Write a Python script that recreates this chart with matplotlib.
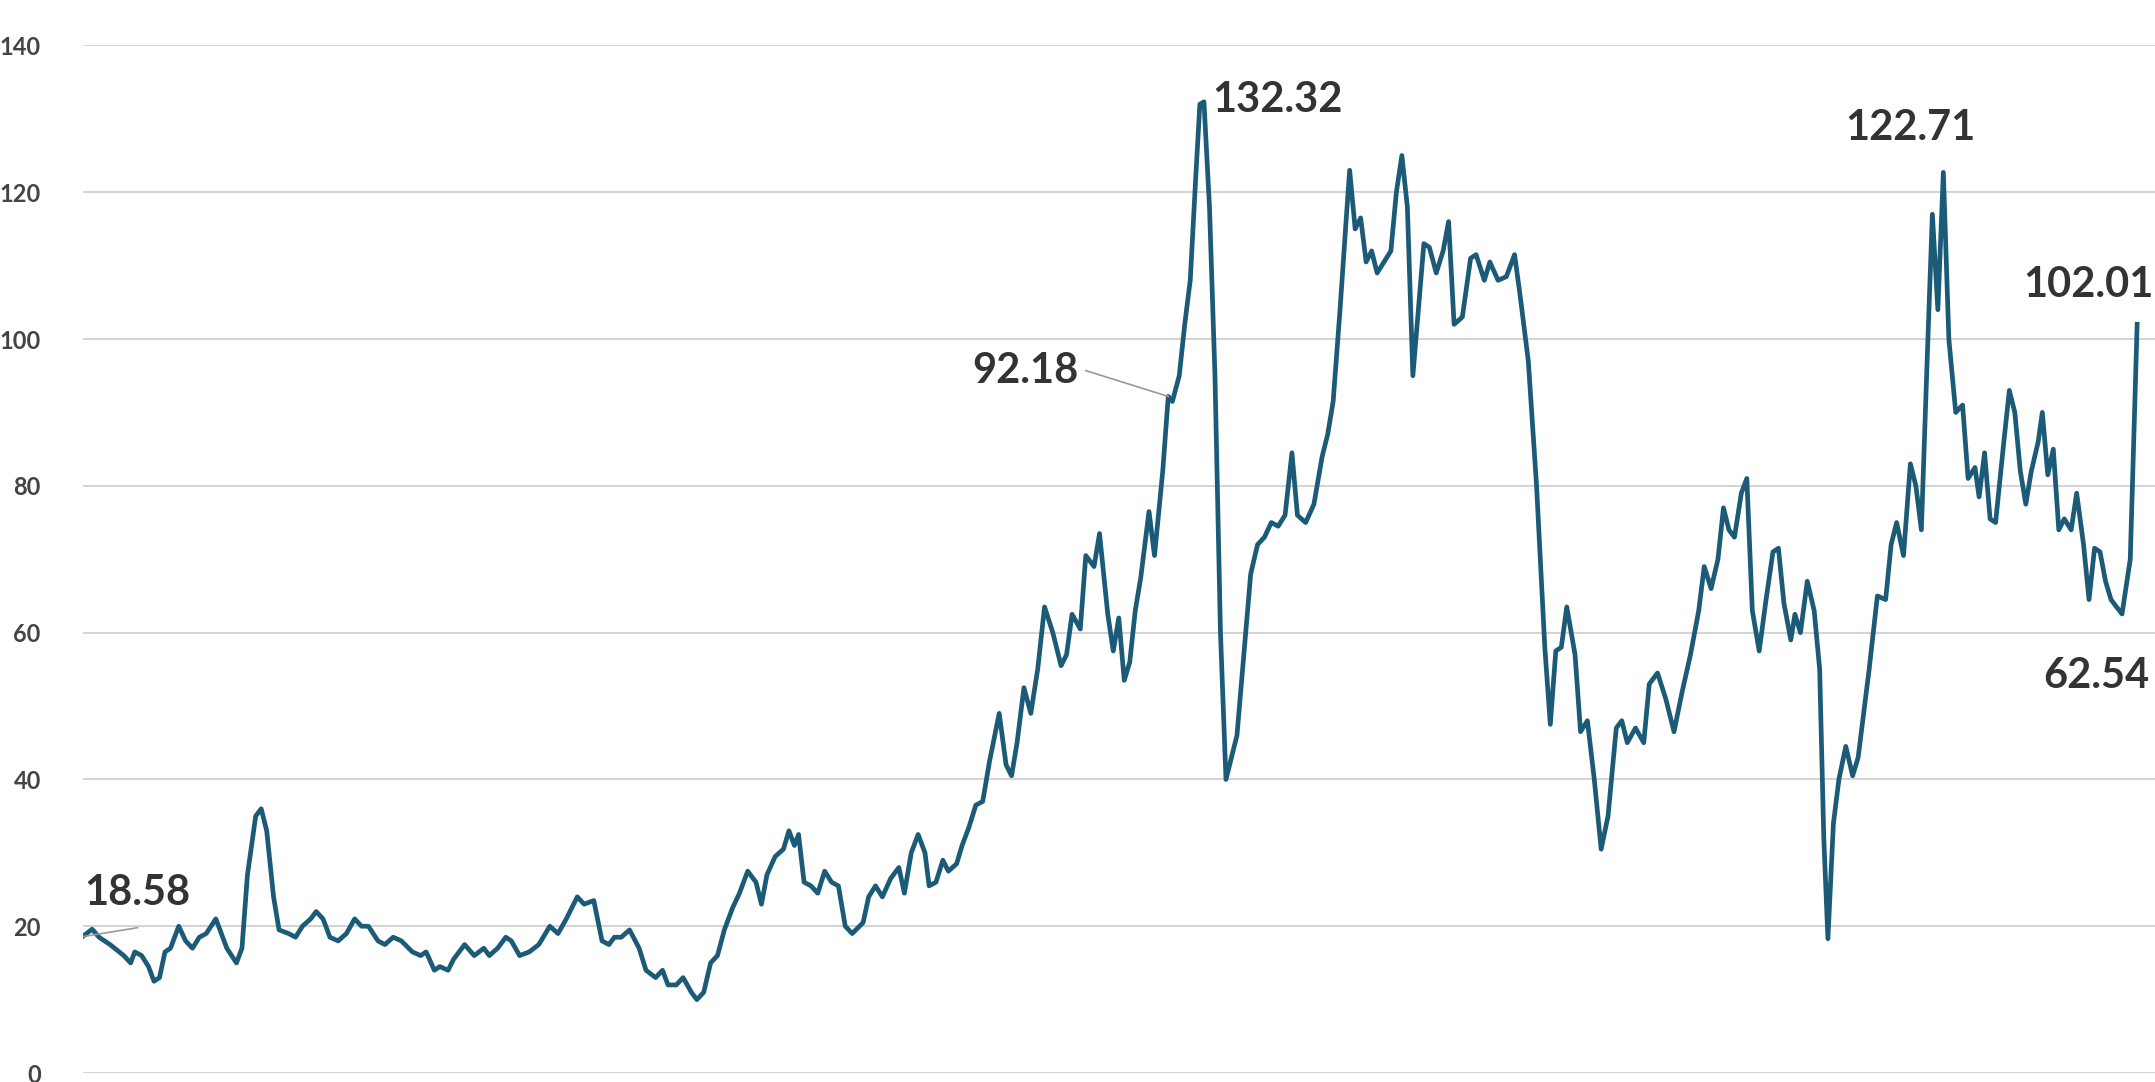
import matplotlib.pyplot as plt

plt.rcParams['font.family'] = ['Lato', 'DejaVu Sans']

# time index (arbitrary units along the x axis) and price values
t = [0, 7, 12, 20, 30, 35, 38, 43, 48, 52, 56, 60, 64, 70, 75, 80, 85, 90, 97, 105, 112, 116, 120, 126, 130, 134,
     139, 143, 150, 155, 160, 166, 170, 175, 180, 186, 192, 198, 203, 208, 215, 220, 226, 232, 240, 246, 250, 256,
     260, 266, 270, 278, 285, 292, 296, 302, 308, 312, 318, 325, 332, 340, 346, 352, 360, 365, 372, 378, 383, 387,
     392, 398, 405, 410, 417, 422, 426, 432, 437, 443, 447, 452, 457, 462, 467, 473, 478, 484, 490, 494, 498, 504,
     510, 514, 518, 521, 525, 530, 535, 540, 545, 550, 555, 560, 568, 572, 577, 582, 588, 594, 598, 603, 608, 613,
     616, 621, 626, 630, 636, 640, 645, 650, 655, 660, 667, 672, 676, 680, 685, 690, 695, 700, 706, 712, 716, 720,
     726, 730, 736, 740, 746, 750, 754, 758, 762, 766, 770, 776, 780, 786, 790, 793, 798, 802, 806, 810, 813, 816,
     820, 824, 828, 832, 836, 840, 845, 850, 855, 860, 865, 870, 875, 880, 884, 890, 896, 902, 906, 910, 915, 919,
     922, 926, 930, 934, 938, 942, 947, 952, 956, 960, 964, 968, 972, 976, 980, 985, 990, 994, 998, 1004, 1010,
     1014, 1020, 1024, 1030, 1036, 1042, 1046, 1052, 1058, 1064, 1068, 1072, 1076, 1080, 1086, 1090, 1095, 1100,
     1105, 1110, 1116, 1120, 1124, 1130, 1136, 1140, 1146, 1152, 1158, 1164, 1170, 1176, 1180, 1185, 1190, 1194,
     1198, 1202, 1207, 1211, 1215, 1220, 1225, 1230, 1234, 1238, 1243, 1246, 1250, 1255, 1260, 1264, 1267, 1270,
     1274, 1278, 1283, 1288, 1292, 1296, 1300, 1306, 1312, 1316, 1320, 1325, 1330, 1334, 1338, 1342, 1346, 1350,
     1354, 1358, 1363, 1368, 1372, 1377, 1380, 1384, 1388, 1392, 1398, 1402, 1406, 1410, 1414, 1418, 1423, 1426,
     1430, 1434, 1438, 1442, 1447, 1451, 1456, 1460, 1464, 1468, 1472, 1476, 1480, 1484, 1490, 1495]
price = [18.58, 19.6, 18.5, 17.5, 16, 15, 16.5, 16, 14.5, 12.5, 13, 16.5, 17, 20, 18, 17, 18.5, 19, 21, 17, 15, 17,
         27, 35, 36, 33, 24, 19.5, 19, 18.5, 20, 21, 22, 21, 18.5, 18, 19, 21, 20, 20, 18, 17.5, 18.5, 18, 16.5, 16,
         16.5, 14, 14.5, 14, 15.5, 17.5, 16, 17, 16, 17, 18.5, 18, 16, 16.5, 17.5, 20, 19, 21, 24, 23, 23.5, 18, 17.5,
         18.5, 18.5, 19.5, 17, 14, 13, 14, 12, 12, 13, 11, 10, 11, 15, 16, 19.5, 22.5, 24.5, 27.5, 26, 23, 27, 29.5,
         30.5, 33, 31, 32.5, 26, 25.5, 24.5, 27.5, 26, 25.5, 20, 19, 20.5, 24, 25.5, 24, 26.5, 28, 24.5, 30, 32.5, 30,
         25.5, 26, 29, 27.5, 28.5, 31, 33.5, 36.5, 37, 42.5, 49, 42, 40.5, 45, 52.5, 49, 55, 63.5, 60, 55.5, 57, 62.5,
         60.5, 70.5, 69, 73.5, 62.5, 57.5, 62, 53.5, 56, 63, 67.5, 76.5, 70.5, 82, 92.18, 91.5, 95, 102, 108, 122,
         132, 132.32, 118, 95, 60, 40, 43, 46, 57, 68, 72, 73, 75, 74.5, 76, 84.5, 76, 75, 77.5, 84, 87, 91.5, 104,
         115, 123, 115, 116.5, 110.5, 112, 109, 110.5, 112, 120, 125, 118, 95, 104, 113, 112.5, 109, 112, 116, 102,
         103, 111, 111.5, 108, 110.5, 108, 108.5, 111.5, 106, 97, 80, 58, 47.5, 57.5, 58, 63.5, 57, 46.5, 48, 40,
         30.5, 35, 47, 48, 45, 47, 45, 53, 54.5, 51, 46.5, 52, 57, 63, 69, 66, 70, 77, 74, 73, 79, 81, 63, 57.5, 64.5,
         71, 71.5, 64, 59, 62.5, 60, 67, 63, 55, 32, 18.3, 34, 40, 44.5, 40.5, 43, 49, 55, 65, 64.5, 72, 75, 70.5, 83,
         80, 74, 96, 117, 104, 122.71, 100, 90, 91, 81, 82.5, 78.5, 84.5, 75.5, 75, 86, 93, 90, 82, 77.5, 82, 86, 90,
         81.5, 85, 74, 75.5, 74, 79, 72, 64.5, 71.5, 71, 67, 64.5, 63.5, 62.54, 70, 102.01]
yticks = [0, 20, 40, 60, 80, 100, 120, 140]

n = min(len(t), len(price))
t, price = t[:n], price[:n]

fig = plt.figure(figsize=(21.55, 10.82), dpi=100)
ax = fig.add_axes([0.0383, 0.0083, 0.9617, 0.9497])
ax.plot(t, price, color='#1c5b78', lw=3.4, solid_joinstyle='round')
ax.set_xlim(0, 1508)
ax.set_ylim(0, 140)
ax.set_yticks(yticks)
ax.set_xticks([])
ax.grid(axis='y', color='#cccccc', lw=1.2)
ax.set_axisbelow(True)
for s in ax.spines.values():
    s.set_visible(False)
ax.tick_params(axis='y', length=0, pad=30, labelsize=17, labelcolor='#444444')
for lab in ax.get_yticklabels():
    lab.set_fontweight('bold')

tk = dict(fontsize=30, fontweight='bold', color='#333333')
ax.text(40, 24.5, '18.58', ha='center', va='center', **tk)
ax.plot([0, 40], [18.58, 19.8], color='#999999', lw=1.2)
ax.text(725, 95.6, '92.18', ha='right', va='center', **tk)
ax.plot([730, 790], [95.7, 92.18], color='#999999', lw=1.2)
ax.text(822, 132.5, '132.32', ha='left', va='center', **tk)
ax.text(1330, 128.8, '122.71', ha='center', va='center', **tk)
ax.text(1507, 107.4, '102.01', ha='right', va='center', **tk)
ax.text(1504, 54.1, '62.54', ha='right', va='center', **tk)

fig.savefig('out.png', dpi=100)
